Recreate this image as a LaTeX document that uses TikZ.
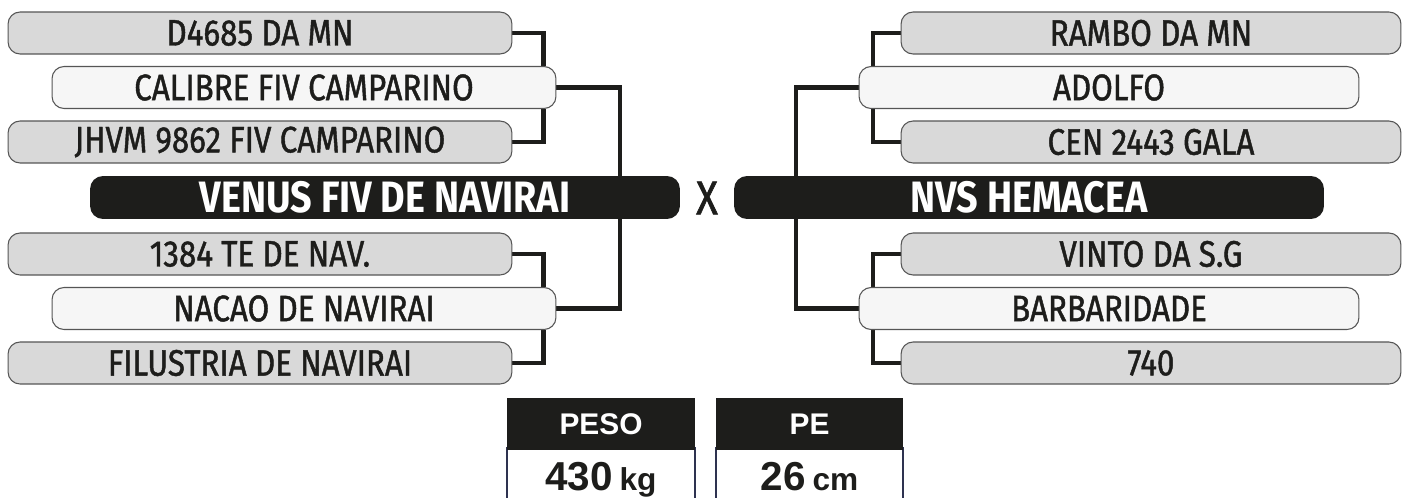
\documentclass[tikz,border=0pt]{standalone}
\usepackage{fontspec}
\setmainfont{Fira Sans}
\newfontfamily\namefont[FakeStretch=0.85, FakeBold=1.2]{Fira Sans}
\newfontfamily\headfont[FakeStretch=0.86]{Fira Sans}
\newfontfamily\datafont{Liberation Sans}
\usetikzlibrary{positioning, calc, backgrounds}
\definecolor{boxgray}{HTML}{D9D9D9}
\definecolor{boxlight}{HTML}{F6F6F6}
\definecolor{inkblack}{HTML}{1D1D1B}
\definecolor{rimgray}{HTML}{555555}
\definecolor{rimnavy}{HTML}{2E3250}

\begin{document}
\begin{tikzpicture}[x=0.02cm, y=-0.02cm,
        ancestor/.style={rectangle, rounded corners=0.24cm, draw=rimgray, line width=0.6pt, fill=boxgray, minimum width=10.08cm, minimum height=0.84cm, inner sep=0pt, font=\namefont\fontsize{21}{24}\selectfont, text=inkblack},
        parent/.style={ancestor, fill=boxlight},
        animal/.style={rectangle, rounded corners=0.26cm, fill=inkblack, minimum width=11.8cm, minimum height=0.86cm, inner sep=0pt, font=\headfont\bfseries\fontsize{25}{28}\selectfont, text=white},
        link/.style={draw=inkblack, line width=2.3pt},
        head/.style={rectangle, fill=inkblack, minimum width=3.76cm, minimum height=1.04cm, inner sep=0pt, font=\datafont\bfseries\fontsize{17}{20}\selectfont, text=white},
        value/.style={rectangle, draw=rimnavy, line width=0.8pt, fill=white, minimum width=3.76cm, minimum height=1.1cm, inner sep=0pt, text height=0.62cm, text depth=0pt, font=\datafont\bfseries\fontsize{23}{26}\selectfont, text=inkblack}
    ]
        \useasboundingbox (0,0) rectangle (1402,497);

        \node[animal] (venus) at (385,197.5) {VENUS FIV DE NAVIRAI};
        \node[animal] (nvs) at (1029,197.5) {NVS HEMACEA};
        \node[font=\namefont\fontsize{27}{30}\selectfont, text=inkblack] (versus) at (707,198) {X};

        \node[ancestor] (d4685) at (260,33) {D4685 DA MN};
        \node[parent] (calibre) at (304,87.5) {CALIBRE FIV CAMPARINO};
        \node[ancestor] (jhvm) at (260,142) {JHVM 9862 FIV CAMPARINO};
        \node[ancestor] (n1384) at (260,254) {1384 TE DE NAV.};
        \node[parent] (nacao) at (304,308.5) {NACAO DE NAVIRAI};
        \node[ancestor] (filustria) at (260,363) {FILUSTRIA DE NAVIRAI};

        \node[ancestor, minimum width=10cm] (rambo) at (1151,33) {RAMBO DA MN};
        \node[parent, minimum width=10cm] (adolfo) at (1109,87.5) {ADOLFO};
        \node[ancestor, minimum width=10cm] (cen) at (1151,142) {CEN 2443 GALA};
        \node[ancestor, minimum width=10cm] (vinto) at (1151,254) {VINTO DA S.G};
        \node[parent, minimum width=10cm] (barbaridade) at (1109,308.5) {BARBARIDADE};
        \node[ancestor, minimum width=10cm] (n740) at (1151,363) {740};

        \begin{scope}[on background layer]
            \draw[link] (d4685.east) -| ($(calibre.north east)+(-13,0)$);
            \draw[link] (jhvm.east) -| ($(calibre.south east)+(-13,0)$);
            \draw[link] (calibre.east) -| ($(venus.north east)+(-60,0)$);
            \draw[link] (nacao.east) -| ($(venus.south east)+(-60,0)$);
            \draw[link] (n1384.east) -| ($(nacao.north east)+(-13,0)$);
            \draw[link] (filustria.east) -| ($(nacao.south east)+(-13,0)$);
            \draw[link] (rambo.west) -| ($(adolfo.north west)+(14,0)$);
            \draw[link] (cen.west) -| ($(adolfo.south west)+(14,0)$);
            \draw[link] (adolfo.west) -| ($(nvs.north west)+(62,0)$);
            \draw[link] (barbaridade.west) -| ($(nvs.south west)+(62,0)$);
            \draw[link] (vinto.west) -| ($(barbaridade.north west)+(14,0)$);
            \draw[link] (n740.west) -| ($(barbaridade.south west)+(14,0)$);
        \end{scope}

        \node[value] (pesoval) at (601,475) {430\,{\fontsize{18}{20}\selectfont kg}};
        \node[head] (peso) at (601,424) {PESO};
        \node[value, minimum width=3.74cm] (peval) at (809.5,475) {26\,{\fontsize{18}{20}\selectfont cm}};
        \node[head, minimum width=3.74cm] (pe) at (809.5,424) {PE};
\end{tikzpicture}
\end{document}
